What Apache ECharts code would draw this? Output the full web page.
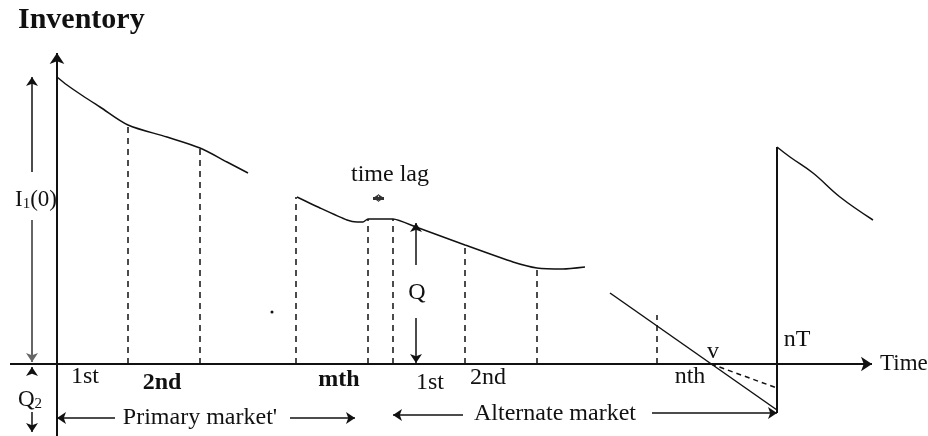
<!DOCTYPE html>
<html><head><meta charset="utf-8">
<script src="https://cdn.jsdelivr.net/npm/echarts@6/dist/echarts.min.js"></script>
<style>html,body{margin:0;padding:0;background:#fff}#c{width:928px;height:436px}</style>
</head><body><div id="c"></div>
<script>
// Diagram units: time (t) and inventory level (I); origin where the axes cross.
const curvePrimary = [[0,287],[10,279],[26,268],[43,257],[71,239],[110,227],[143,216],[170,202],[191,191]];
const curveAlternate = [[240,167],[263,156],[290,144],[300,142],[306,142],[311,145],[336,145],[359,137],[408,119],[456,102],[480,96],[506,95],[528,97]];
const shortageLine = [[553,71],[720,-46]];
const shortageDashed = [[654,0],[720,-24]];
const replenishLine = [[720,-49],[720,217]];
const nextCycle = [[720,217],[733,207],[756,191],[783,167],[816,144]];
const dashTimes = [71,143,239,311,336,408,480,600];
const dashTops  = [239,216,167,145,145,119,96,49];
const strayDot = [[215,52]];

const axisX = [[-47,0],[815,0]];
const axisY = [[0,-72],[0,311]];
const arrowSegs = [
  [[-25,192],[-25,287]], [[-25,144],[-25,2]], [[-25,-9],[-25,-3]], [[-25,-48],[-25,-68]],
  [[359,99],[359,141]], [[359,46],[359,1]],
  [[58,-54],[0,-54]], [[233,-54],[298,-54]],
  [[406,-51],[336,-51]], [[595,-49],[720,-49]]
];
const lagArrow = [[316,166],[327,166]];

const labelTexts = ['1st','2nd','mth','1st','2nd','nth','v','nT','time lag','Q',"Primary market'",'Alternate market'];
const labelPos = [[28,-13],[105,-19],[282,-16],[373,-19],[431,-14],[633,-13],[656,12],[740,24],[333,189],[360,71],[143,-54],[498,-50]];
const labelBold = [false,true,true,false,false,false,false,false,false,false,false,false];

const ink = '#111';
const font = 'Liberation Serif';

const labelData = labelTexts.map((t,i)=>({
  value: labelPos[i], name: t,
  label: {fontWeight: labelBold[i] ? 'bold' : 'normal'}
}));

const chart = echarts.init(document.getElementById('c'));
chart.setOption({
  animation:false,
  title:{text:'Inventory', left:13, top:0, textStyle:{fontFamily:font, fontWeight:'bold', fontSize:30, color:ink}},
  grid:{left:0,right:0,top:0,bottom:0},
  xAxis:{type:'value',min:-57,max:871,show:false},
  yAxis:{type:'value',min:-72,max:364,show:false},
  series:[
    {type:'line',data:curvePrimary,symbol:'none',smooth:0.3,lineStyle:{color:ink,width:1.5}},
    {type:'line',data:curveAlternate,symbol:'none',smooth:0.2,lineStyle:{color:ink,width:1.5}},
    {type:'line',data:shortageLine,symbol:'none',lineStyle:{color:ink,width:1.5}},
    {type:'line',data:replenishLine,symbol:'none',lineStyle:{color:ink,width:2}},
    {type:'line',data:nextCycle,symbol:'none',smooth:0.4,lineStyle:{color:ink,width:1.5}},
    {type:'line',data:shortageDashed,symbol:'none',lineStyle:{color:ink,width:1.5,type:[5,4]}},
    {type:'lines',coordinateSystem:'cartesian2d',lineStyle:{color:ink,width:1.5,type:[6,5],opacity:1},
     data:dashTimes.map((t,i)=>({coords:[[t,0],[t,dashTops[i]]]}))},
    {type:'lines',coordinateSystem:'cartesian2d',symbol:['none','arrow'],symbolSize:[0,11],
     lineStyle:{color:ink,width:2,opacity:1},data:[{coords:axisX},{coords:axisY}]},
    {type:'lines',coordinateSystem:'cartesian2d',symbol:['none','arrow'],symbolSize:[0,9],
     lineStyle:{color:ink,width:1.5,opacity:1},data:arrowSegs.map((c,i)=>({coords:c, lineStyle: i===1?{color:'#666',width:2}:{}}))},
    {type:'lines',coordinateSystem:'cartesian2d',symbol:['arrow','arrow'],symbolSize:6,
     lineStyle:{color:'#333',width:3,opacity:1},data:[{coords:lagArrow}]},
    {type:'scatter',data:strayDot,symbolSize:3,itemStyle:{color:ink,opacity:1}},
    {type:'scatter',data:labelData,symbolSize:0,itemStyle:{opacity:1},
     label:{show:true,position:'inside',formatter:p=>p.name,fontFamily:font,fontSize:24,color:ink}},
    {type:'scatter',symbolSize:0,itemStyle:{opacity:1},data:[
       {value:[-21,164],name:'I1',label:{formatter:'{a|I}{s|1}{a|(0)}'}},
       {value:[-27,-36],name:'Q2',label:{formatter:'{a|Q}{s|2}'}}],
     label:{show:true,position:'inside',rich:{a:{fontFamily:font,fontSize:23,color:ink},s:{fontFamily:font,fontSize:15,color:ink,verticalAlign:'bottom',padding:[8,0,0,0]}}}},
    {type:'scatter',symbolSize:0,itemStyle:{opacity:1},data:[{value:[823,0],name:'Time'}],
     label:{show:true,position:'right',distance:0,formatter:p=>p.name,fontFamily:font,fontSize:23,color:ink}}
  ]
});
</script></body></html>
